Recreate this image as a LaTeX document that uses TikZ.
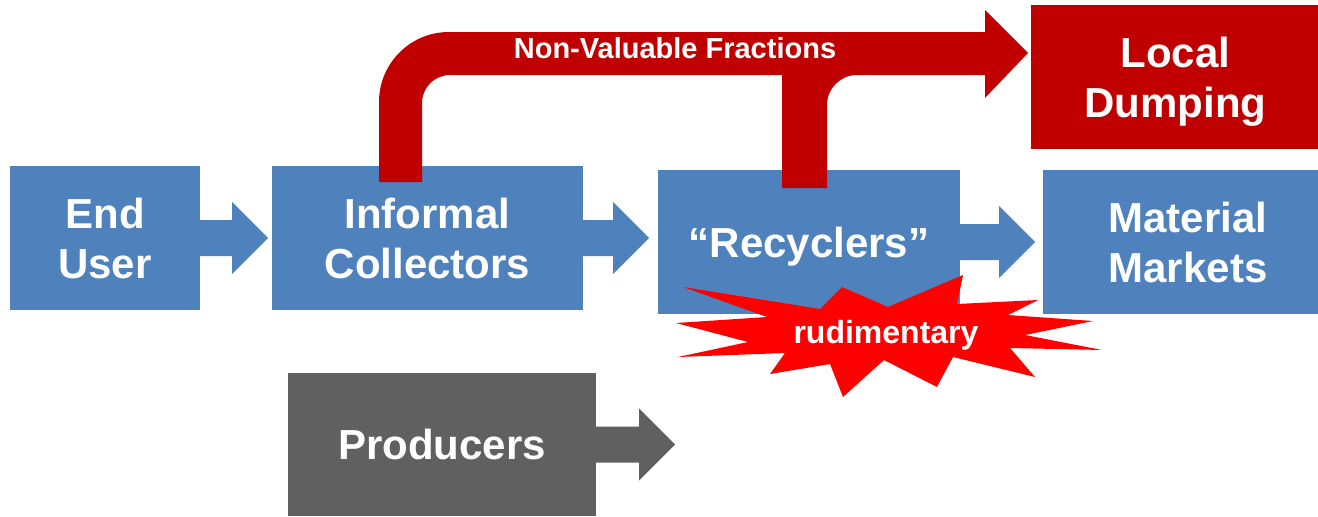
\documentclass[tikz,border=0pt]{standalone}
\usepackage{fontspec}
\setmainfont{Liberation Sans}
\usetikzlibrary{calc}
\definecolor{boxblue}{HTML}{4F81BD}
\definecolor{darkred}{HTML}{C00000}
\definecolor{prodgray}{HTML}{606060}
\definecolor{burstred}{HTML}{FF0000}
% block arrow leaving the east side of a node: node, shaft length, colour
\newcommand\blockarr[3]{%
  \fill[#3] ($(#1.east)+(0,18)$) -- ++(#2,0) -- ++(0,18) -- ++(36,-36)
    -- ++(-36,-36) -- ++(0,18) -- ++(-#2,0) -- cycle;}
\begin{document}
\begin{tikzpicture}[x=1pt,y=1pt,
  box/.style={rectangle, inner sep=0pt, text=white, align=center,
    font=\bfseries\fontsize{42}{50}\selectfont, minimum height=144pt},
  smalltxt/.style={inner sep=0pt, text=white, font=\bfseries\fontsize{#1}{#1}\selectfont},
]
\useasboundingbox (0,0) rectangle (1318,-517);
\fill[white] (0,0) rectangle (1318,-517);

% boxes
\node[box, fill=boxblue, minimum width=190pt] (enduser) at (105,-238) {End\\User};
\node[box, fill=boxblue, minimum width=311pt] (informal) at (427.5,-238) {Informal\\Collectors};
\node[box, fill=boxblue, minimum width=302pt, text depth=0pt] (recyclers) at (809,-242) {``Recyclers''};
\node[box, fill=boxblue, minimum width=290pt] (markets) at (1188,-242) {Material\\Markets};
\node[box, fill=darkred, minimum width=289pt, text depth=0pt] (dumping) at (1175.5,-77) {Local\\Dumping};
\node[box, fill=prodgray, minimum width=308pt, minimum height=143pt] (producers) at (442,-444.5) {Producers};

% block arrows
\blockarr{enduser}{32}{boxblue}
\blockarr{informal}{30}{boxblue}
\blockarr{recyclers}{39}{boxblue}
\blockarr{producers}{43}{prodgray}

% curved red arrow of non-valuable fractions
\fill[darkred] (379,-182) -- (379,-102) arc[start angle=180,end angle=90,radius=70pt]
  -- (985,-32) -- (985,-10) -- (1028,-53) -- (985,-98) -- (985,-75)
  -- (857,-75) arc[start angle=90,end angle=180,radius=30pt]
  -- (827,-188) -- (782,-188) -- (782,-75)
  -- (450,-75) arc[start angle=90,end angle=180,radius=28pt]
  -- (422,-182) -- cycle;
\node[smalltxt=29] (nvf) at (675,-48) {Non-Valuable Fractions};

% starburst
\fill[burstred] (683,-287) -- (820,-309) -- (842,-287) -- (888,-307) -- (963,-275)
  -- (957,-304) -- (1038,-300) -- (1008,-315) -- (1093,-321) -- (1025,-335)
  -- (1102,-350) -- (1010,-348) -- (1035,-377) -- (953,-357) -- (937,-387)
  -- (884,-360) -- (843,-397) -- (830,-364) -- (770,-374) -- (785,-353)
  -- (678,-357) -- (748,-342) -- (676,-323) -- (767,-317) -- cycle;
\node[smalltxt=32, anchor=base] (rud) at (886,-343) {rudimentary};
\end{tikzpicture}
\end{document}
